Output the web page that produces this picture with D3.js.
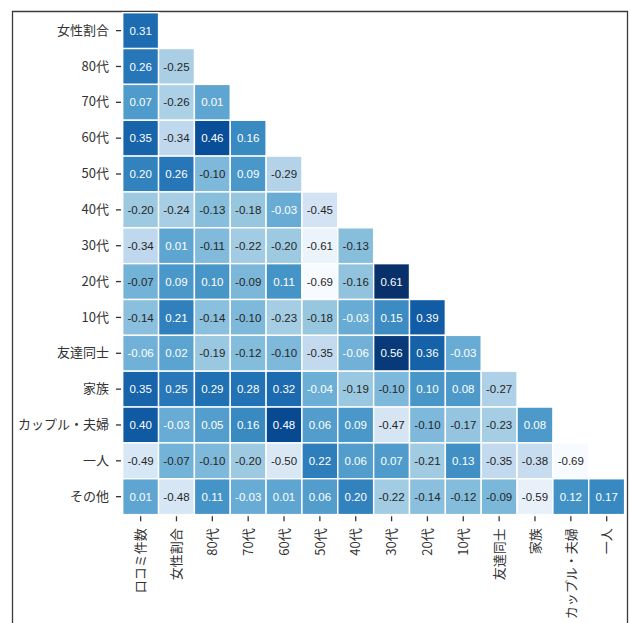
<!DOCTYPE html>
<html>
<head>
<meta charset="utf-8">
<script src="https://cdn.jsdelivr.net/npm/d3@7"></script>
<style>
  html, body { margin: 0; padding: 0; background: #fff; }
  svg { display: block; }
  text { font-family: "Noto Sans CJK JP", "Noto Sans", sans-serif; }
</style>
</head>
<body>
<svg id="chart" width="630" height="623"></svg>
<script>
// Variables along the columns (x) and rows (y) of the lower-triangle correlation matrix
const colLabels = ["口コミ件数", "女性割合", "80代", "70代", "60代", "50代", "40代", "30代", "20代", "10代", "友達同士", "家族", "カップル・夫婦", "一人"];
const rowLabels = ["女性割合", "80代", "70代", "60代", "50代", "40代", "30代", "20代", "10代", "友達同士", "家族", "カップル・夫婦", "一人", "その他"];

// Correlation coefficients, one row per rowLabels entry (lower triangle only)
const corrRows = [
  [0.31],
  [0.26, -0.25],
  [0.07, -0.26, 0.01],
  [0.35, -0.34, 0.46, 0.16],
  [0.20, 0.26, -0.10, 0.09, -0.29],
  [-0.20, -0.24, -0.13, -0.18, -0.03, -0.45],
  [-0.34, 0.01, -0.11, -0.22, -0.20, -0.61, -0.13],
  [-0.07, 0.09, 0.10, -0.09, 0.11, -0.69, -0.16, 0.61],
  [-0.14, 0.21, -0.14, -0.10, -0.23, -0.18, -0.03, 0.15, 0.39],
  [-0.06, 0.02, -0.19, -0.12, -0.10, -0.35, -0.06, 0.56, 0.36, -0.03],
  [0.35, 0.25, 0.29, 0.28, 0.32, -0.04, -0.19, -0.10, 0.10, 0.08, -0.27],
  [0.40, -0.03, 0.05, 0.16, 0.48, 0.06, 0.09, -0.47, -0.10, -0.17, -0.23, 0.08],
  [-0.49, -0.07, -0.10, -0.20, -0.50, 0.22, 0.06, 0.07, -0.21, 0.13, -0.35, -0.38, -0.69],
  [0.01, -0.48, 0.11, -0.03, 0.01, 0.06, 0.20, -0.22, -0.14, -0.12, -0.09, -0.59, 0.12, 0.17]
];

// ColorBrewer "Blues" stops
const bluesStops = ["#f7fbff", "#deebf7", "#c6dbef", "#9ecae1", "#6baed6", "#4292c6", "#2171b5", "#08519c", "#08306b"];

const cells = [];
corrRows.forEach((row, r) => row.forEach((v, c) => cells.push({ row: rowLabels[r], col: colLabels[c], value: v })));

const vMin = d3.min(cells, d => d.value);
const vMax = d3.max(cells, d => d.value);

const color = d3.scaleLinear()
  .domain(bluesStops.map((_, i) => vMin + (vMax - vMin) * i / (bluesStops.length - 1)))
  .range(bluesStops)
  .interpolate(d3.interpolateRgb)
  .clamp(true);

// relative luminance, used to pick dark or light annotation text
function luminance(c) {
  const rgb = d3.rgb(c);
  const lin = [rgb.r, rgb.g, rgb.b].map(v => {
    v /= 255;
    return v <= 0.03928 ? v / 12.92 : Math.pow((v + 0.055) / 1.055, 2.4);
  });
  return 0.2126 * lin[0] + 0.7152 * lin[1] + 0.0722 * lin[2];
}

const svg = d3.select("#chart");

// outer frame
svg.append("path")
  .attr("d", "M12.5,640 V11.5 H627.5 V640")
  .attr("fill", "none")
  .attr("stroke", "#3a3a3a")
  .attr("stroke-width", 1.3);

const gridLeft = 122.7, gridTop = 12.7, cell = 35.85;

const x = d3.scaleBand().domain(colLabels).range([gridLeft, gridLeft + cell * colLabels.length]).padding(0);
const y = d3.scaleBand().domain(rowLabels).range([gridTop, gridTop + cell * rowLabels.length]).padding(0);

const g = svg.append("g");

g.selectAll("rect")
  .data(cells)
  .join("rect")
  .attr("x", d => x(d.col))
  .attr("y", d => y(d.row))
  .attr("width", x.bandwidth())
  .attr("height", y.bandwidth())
  .attr("fill", d => color(d.value))
  .attr("stroke", "#fff")
  .attr("stroke-width", 1.4);

g.selectAll("text.ann")
  .data(cells)
  .join("text")
  .attr("class", "ann")
  .attr("x", d => x(d.col) + x.bandwidth() / 2)
  .attr("y", d => y(d.row) + y.bandwidth() / 2)
  .attr("dy", "0.36em")
  .attr("text-anchor", "middle")
  .attr("font-size", 11.5)
  .style("font-family", '"Liberation Sans", Arial, sans-serif')
  .attr("fill", d => luminance(color(d.value)) > 0.408 ? "#262626" : "#ffffff")
  .text(d => d.value.toFixed(2));

// y axis
const yAxis = svg.append("g")
  .attr("transform", `translate(${gridLeft - 1.7},0)`)
  .call(d3.axisLeft(y).tickSize(5).tickPadding(7));
yAxis.select(".domain").remove();
yAxis.selectAll(".tick line").attr("stroke", "#333").attr("stroke-width", 1.3);
yAxis.selectAll(".tick text")
  .attr("font-size", 13)
  .attr("fill", "#333")
  .style("font-family", '"Noto Sans CJK JP", sans-serif');

// x axis
const xBottom = gridTop + cell * rowLabels.length;
const xAxis = svg.append("g")
  .attr("transform", `translate(0,${xBottom + 1.7})`)
  .call(d3.axisBottom(x).tickSize(5).tickPadding(7));
xAxis.select(".domain").remove();
xAxis.selectAll(".tick line").attr("stroke", "#333").attr("stroke-width", 1.3);
xAxis.selectAll(".tick text")
  .attr("font-size", 13)
  .attr("fill", "#333")
  .style("font-family", '"Noto Sans CJK JP", sans-serif')
  .attr("text-anchor", "end")
  .attr("y", null)
  .attr("transform", "translate(0,12) rotate(-90)")
  .attr("dy", "0.36em");
</script>
</body>
</html>
